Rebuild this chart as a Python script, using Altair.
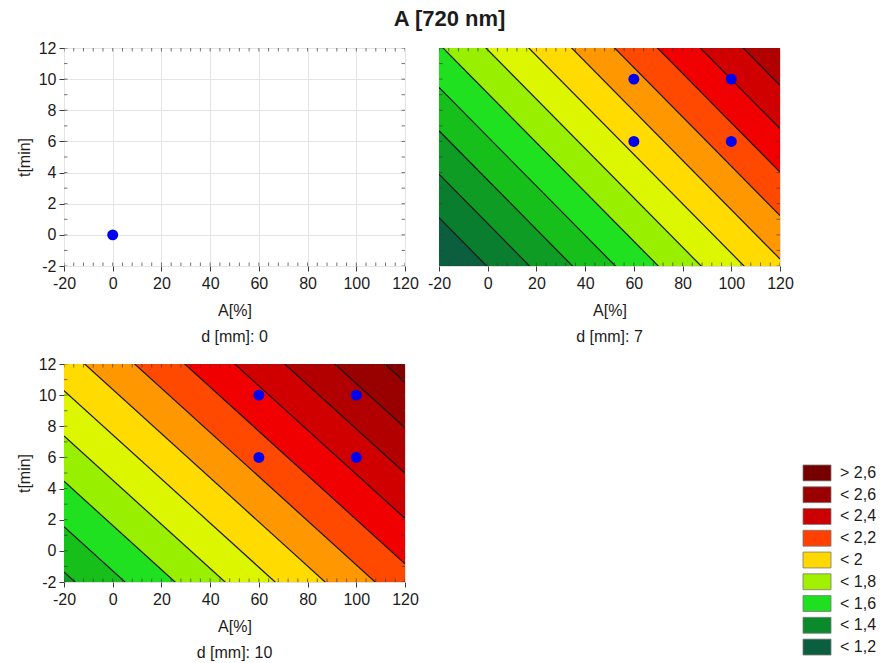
import altair as alt
import pandas as pd

FONT = "Liberation Sans"
TXT = "#1c1c1c"
FRAME = "#3a3a3a"
W, H = 341, 218

# ---------------- data ----------------
A_DOMAIN = [-20, 120]
T_DOMAIN = [-2, 12]
A_TICKS = [-20, 0, 20, 40, 60, 80, 100, 120]
T_TICKS = [-2, 0, 2, 4, 6, 8, 10, 12]
A_MINOR = list(range(-20, 121, 4))
T_MINOR = list(range(-2, 13, 1))

panel_titles = ["d [mm]: 0", "d [mm]: 7", "d [mm]: 10"]

# design points visible in each panel
pts_d0_A = [0]
pts_d0_t = [0]
pts_d7_A = [60, 60, 100, 100]
pts_d7_t = [6, 10, 6, 10]
pts_d10_A = [60, 60, 100, 100]
pts_d10_t = [6, 10, 6, 10]

# fitted (linear) response surface per slice: value = b0 + bA*A + bt*t
surf_d7 = {"b0": 1.274, "bA": 0.00568, "bt": 0.03585}
surf_d10 = {"b0": 1.544, "bA": 0.00487, "bt": 0.03434}

# contour levels and fill colour of each band (below first level ... above last)
levels = [1.2, 1.3, 1.4, 1.5, 1.6, 1.7, 1.8, 1.9, 2.0, 2.1, 2.2, 2.3, 2.4, 2.5, 2.6]
band_colors = ["#0c5f3e", "#0a7e2f", "#0f9c25", "#17bf1b", "#20e120", "#98ef00",
               "#dcf600", "#ffdb00", "#ff9800", "#ff4800", "#f00000", "#d00000",
               "#b20000", "#990000", "#840000", "#6e0000"]

legend_labels = ["> 2,6", "< 2,6", "< 2,4", "< 2,2", "< 2", "< 1,8", "< 1,6", "< 1,4", "< 1,2"]
legend_colors = ["#760000", "#9a0000", "#cc0000", "#ff4000", "#ffd800", "#a0f000",
                 "#1ee01e", "#0a8a2a", "#0c5f3e"]

# ---------------- helpers ----------------
band_ids = [f"b{i:02d}" for i in range(len(band_colors))]


def t_at(level, A, s):
    return (level - s["b0"] - s["bA"] * A) / s["bt"]


def band_frame(s):
    bounds = [levels[0] - 3] + levels + [levels[-1] + 3]
    rows = []
    for i in range(len(bounds) - 1):
        for A in A_DOMAIN:
            rows.append({"band": band_ids[i], "A": A,
                         "t_lo": t_at(bounds[i], A, s), "t_hi": t_at(bounds[i + 1], A, s)})
    return pd.DataFrame(rows)


def line_frame(s):
    rows = []
    for L in levels:
        for A in A_DOMAIN:
            rows.append({"level": L, "A": A, "t": t_at(L, A, s)})
    return pd.DataFrame(rows)


xs = alt.Scale(domain=A_DOMAIN, nice=False, zero=False)
ys = alt.Scale(domain=T_DOMAIN, nice=False, zero=False)

label_style = dict(labelFont=FONT, labelFontSize=16, labelColor=TXT,
                   titleFont=FONT, titleFontSize=16, titleFontWeight="normal", titleColor=TXT,
                   labelExpr="'' + datum.value")


def x_axis(grid):
    return alt.Axis(values=A_TICKS, title="A[%]", grid=grid, gridColor="#e4e4e4",
                    domain=False, tickSize=5, tickColor=FRAME, labelPadding=4,
                    titlePadding=11, labelFlush=False, **label_style)


def y_axis(grid):
    return alt.Axis(values=T_TICKS, title="t[min]", grid=grid, gridColor="#e4e4e4",
                    domain=False, tickSize=5, tickColor=FRAME, labelPadding=3,
                    titlePadding=6, labelFlush=False, **label_style)


def panel(title, pA, pt, surf=None, grid=False, show_y=True):
    xa = x_axis(grid)
    ya = y_axis(grid) if show_y else None

    def X(f):
        return alt.X(f"{f}:Q", scale=xs, axis=xa)

    def Y(f):
        if ya is None:
            return alt.Y(f"{f}:Q", scale=ys, axis=None, stack=None)
        return alt.Y(f"{f}:Q", scale=ys, axis=ya, stack=None)

    layers = []
    if surf is not None:
        area = alt.Chart(band_frame(surf)).mark_area(clip=True, interpolate="linear").encode(
            x=X("A"), y=Y("t_lo"), y2="t_hi",
            color=alt.Color("band:N", scale=alt.Scale(domain=band_ids, range=band_colors), legend=None),
            detail="band:N")
        lines = alt.Chart(line_frame(surf)).mark_line(clip=True, color="#161616", strokeWidth=1.2).encode(
            x=X("A"), y=Y("t"), detail="level:N")
        layers += [area, lines]

    xt = pd.DataFrame({"A": A_MINOR})
    yt = pd.DataFrame({"t": T_MINOR})
    tick_x = alt.Chart(xt).mark_tick(orient="vertical", size=7, thickness=1, color=FRAME, clip=True)
    tick_y = alt.Chart(yt).mark_tick(orient="horizontal", size=7, thickness=1, color=FRAME, clip=True)
    layers += [
        tick_x.encode(x=X("A"), y=alt.value(0)),
        tick_x.encode(x=X("A"), y=alt.value(H)),
        tick_y.encode(y=Y("t"), x=alt.value(0)),
        tick_y.encode(y=Y("t"), x=alt.value(W)),
    ]
    pts = pd.DataFrame({"A": pA, "t": pt})
    layers.append(alt.Chart(pts).mark_circle(size=120, color="#0000ee", opacity=1).encode(
        x=X("A"), y=Y("t")))
    return alt.layer(*layers).properties(
        width=W, height=H,
        title=alt.TitleParams(text=title, orient="bottom", anchor="middle", font=FONT,
                              fontSize=16, fontWeight="normal", color=TXT, offset=11))


p1 = panel(panel_titles[0], pts_d0_A, pts_d0_t, grid=True)
p2 = panel(panel_titles[1], pts_d7_A, pts_d7_t, surf=surf_d7, show_y=False)
p3 = panel(panel_titles[2], pts_d10_A, pts_d10_t, surf=surf_d10)

# ---------------- legend ----------------
leg = pd.DataFrame({"label": legend_labels})
ly = alt.Y("label:N", sort=legend_labels, axis=None,
           scale=alt.Scale(range=[101, 291], paddingInner=0.27, paddingOuter=0))
leg_rect = alt.Chart(leg).mark_rect(stroke="#777777", strokeWidth=0.8).encode(
    y=ly, x=alt.value(0), x2=alt.value(28),
    fill=alt.Fill("label:N", scale=alt.Scale(domain=legend_labels, range=legend_colors), legend=None))
leg_text = alt.Chart(leg).mark_text(align="left", baseline="middle", font=FONT, fontSize=16,
                                    color=TXT).encode(y=ly, x=alt.value(37), text="label:N")
legend = alt.layer(leg_rect, leg_text).properties(
    width=80, height=295, view=alt.ViewBackground(stroke="transparent"))

row1 = alt.hconcat(p1, p2, spacing=7)
row2 = alt.hconcat(p3, legend, spacing=383)

chart = alt.vconcat(row1, row2, spacing=9).properties(
    title=alt.TitleParams(text="A [720 nm]", font=FONT, fontSize=22, fontWeight="bold",
                          color=TXT, anchor="middle", offset=9),
    padding={"left": 15, "top": 7, "right": 0, "bottom": 0},
).configure_view(stroke=FRAME, strokeWidth=1).configure(font=FONT)

chart.save("out.html", embed_options={"renderer": "svg", "actions": False})
